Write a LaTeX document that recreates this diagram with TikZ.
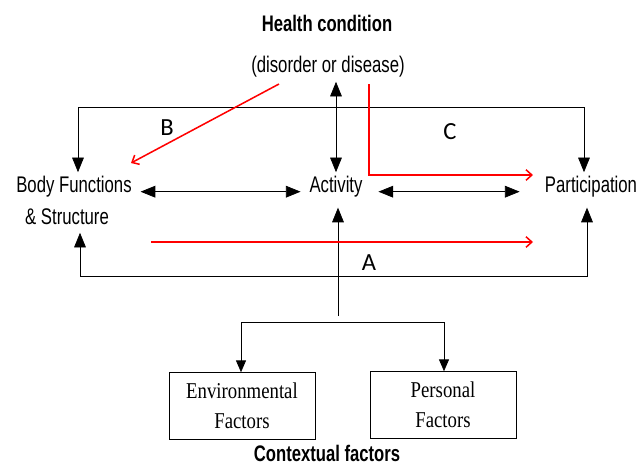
\documentclass[tikz,border=0pt]{standalone}
\usepackage{fontspec}
\setmainfont[FakeStretch=0.83]{Liberation Serif}
\setsansfont[FakeStretch=0.74]{Liberation Sans}
\newfontfamily\labfont{Carlito}
\usetikzlibrary{arrows.meta}

\tikzset{
  tip/.style={-{Triangle[length=12.5pt,width=10pt]}},
  smalltip/.style={-{Triangle[length=10pt,width=8.5pt]}},
  both/.style={{Triangle[length=12.5pt,width=10pt]}-{Triangle[length=12.5pt,width=10pt]}},
  redtip/.style={red,line width=1.3pt,-{Straight Barb[length=5pt,width=9pt]}},
  box/.style={draw,line width=0.8pt,rectangle,minimum width=4.38cm,minimum height=2cm,
    align=center,font=\rmfamily\fontsize{19.3}{26}\selectfont},
  lab/.style={font=\labfont\fontsize{21}{21}\selectfont},
  hdr/.style={font=\sffamily\bfseries\fontsize{19.2}{20}\selectfont}
}

\begin{document}
\begin{tikzpicture}[x=0.03cm,y=-0.03cm,line width=0.6pt,
    every node/.style={font=\sffamily\fontsize{19.3}{20}\selectfont}]
    \useasboundingbox (0,0) rectangle (638,464);

    % text nodes
    \node[hdr] (hc) at (327,23) {Health condition};
    \node (dis) at (328,67) {(disorder or disease)};
    \node (bf) at (74,187) {Body Functions};
    \node (bs) at (67,217) {\& Structure};
    \node (act) at (336,187) {Activity};
    \node (part) at (591,187) {Participation};
    \node[box] (env) at (242,406) {Environmental\\Factors};
    \node[box] (pers) at (443,405) {Personal\\Factors};
    \node[hdr,anchor=base,inner sep=0pt] (ctx) at (327,461) {Contextual factors};

    \node[lab] (lb) at (167,128) {B};
    \node[lab] (lc) at (450,132) {C};
    \node[lab] (la) at (369,263) {A};

    % corner points
    \coordinate (tl) at (78,107);
    \coordinate (tr) at (584,107);
    \coordinate (bl) at (80,276);
    \coordinate (br) at (587,276);
    \coordinate (stem) at (338,316);
    \coordinate (sl) at (241,322);
    \coordinate (sr) at (444,322);

    % top loop
    \draw[tip] (tr) -- (tl) -- (bf.north -| tl);
    \draw[tip] (tl) -- (tr) -- (part.north -| tr);
    % bottom loop
    \draw[tip,shorten >=3pt] (br) -- (bl) -- (bs.south -| bl);
    \draw[tip,shorten >=5pt] (bl) -- (br) -- (part.south -| br);

    % centre links
    \draw[both] (dis.south -| act) -- (act.north);
    \draw[both,shorten <=4pt,shorten >=4pt] ([yshift=-4pt]bf.east) -- ([yshift=-4pt]act.west);
    \draw[both,shorten <=10pt,shorten >=18pt] ([yshift=-4pt]act.east) -- ([yshift=-4pt]part.west);
    \draw[tip,shorten >=5pt] (stem) -- (act.south -| stem);

    % contextual branch
    \draw (sl) -- (sr);
    \draw[smalltip] (sl) -- (env.north -| sl);
    \draw[smalltip] (sr) -- (pers.north -| sr);

    % red paths
    \coordinate (bstart) at (279,84);
    \coordinate (bend) at (131,163);
    \coordinate (cstart) at (369,84);
    \coordinate (ccorner) at (369,175);
    \coordinate (cend) at (533,175);
    \coordinate (astart) at (151,242);
    \coordinate (aend) at (533,242);
    \draw[redtip] (bstart) -- (bend);
    \draw[redtip] (cstart) -- (ccorner) -- (cend);
    \draw[redtip] (astart) -- (aend);
\end{tikzpicture}
\end{document}
